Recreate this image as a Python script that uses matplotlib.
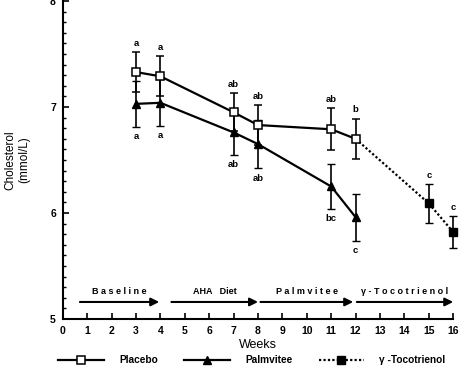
import numpy as np
import matplotlib.pyplot as plt
from matplotlib.ticker import MultipleLocator

plt.rcParams['font.family'] = ['Liberation Sans', 'DejaVu Sans']

# data
weeks_main = [3, 4, 7, 8, 11, 12]
placebo = [7.33, 7.29, 6.95, 6.83, 6.79, 6.70]
placebo_err = [0.19, 0.19, 0.18, 0.19, 0.20, 0.19]
placebo_sig = ['a', 'a', 'ab', 'ab', 'ab', 'b']

palmvitee = [7.03, 7.04, 6.76, 6.65, 6.25, 5.96]
palmvitee_err = [0.22, 0.22, 0.21, 0.23, 0.21, 0.22]
palmvitee_sig = ['a', 'a', 'ab', 'ab', 'bc', 'c']

weeks_toco = [15, 16]
toco = [6.09, 5.82]
toco_err = [0.18, 0.15]
toco_sig = ['c', 'c']

phases = ['B a s e l i n e', 'AHA   Diet', 'P a l m v i t e e', 'γ - T o c o t r i e n o l']
phase_start = [0.7, 4.45, 8.1, 12.05]
phase_end = [3.95, 8.0, 11.9, 16.0]

fig = plt.figure(figsize=(4.62, 3.67), dpi=100)
ax = fig.add_axes([0.136, 0.131, 0.845, 0.866])

lw = 1.6
ax.errorbar(weeks_main, palmvitee, yerr=palmvitee_err, color='black', lw=lw,
            marker='^', ms=6, mfc='black', capsize=3, elinewidth=1.2,
            label='Palmvitee', zorder=3)
ax.errorbar(weeks_main, placebo, yerr=placebo_err, color='black', lw=lw,
            marker='s', ms=6, mfc='white', mew=1.1, capsize=3, elinewidth=1.2,
            label='Placebo', zorder=4)
# dotted continuation from last placebo point
ax.plot([weeks_main[-1]] + weeks_toco, [placebo[-1]] + toco, color='black',
        lw=lw, ls=(0, (1, 1)), zorder=2, clip_on=False)
eb = ax.errorbar(weeks_toco, toco, yerr=toco_err, color='black', lw=0,
                 marker='s', ms=6, mfc='black', capsize=3, elinewidth=1.2, zorder=4)
for art in eb.get_children():
    art.set_clip_on(False)

fs = 6.8
for x, y, e, s in zip(weeks_main, placebo, placebo_err, placebo_sig):
    ax.text(x, y + e + 0.04, s, ha='center', va='bottom', fontsize=fs, fontweight='bold')
for x, y, e, s in zip(weeks_main, palmvitee, palmvitee_err, palmvitee_sig):
    ax.text(x, y - e - 0.05, s, ha='center', va='top', fontsize=fs, fontweight='bold')
for x, y, e, s in zip(weeks_toco, toco, toco_err, toco_sig):
    ax.text(x, y + e + 0.04, s, ha='center', va='bottom', fontsize=fs, fontweight='bold')

# study phase arrows
for name, x0, x1 in zip(phases, phase_start, phase_end):
    ax.annotate('', xy=(x1, 5.16), xytext=(x0, 5.16),
                arrowprops=dict(arrowstyle='-|>', color='black', lw=1.5,
                                mutation_scale=12, shrinkA=0, shrinkB=0))
    ax.text((x0 + x1) / 2, 5.22, name, ha='center', va='bottom', fontsize=6.5,
            fontweight='bold')

ax.set_xlim(0, 16)
ax.set_ylim(5, 8)
ax.xaxis.set_major_locator(MultipleLocator(1))
ax.yaxis.set_major_locator(MultipleLocator(1))
ax.yaxis.set_minor_locator(MultipleLocator(0.1))
ax.tick_params(direction='in', labelsize=7.5, width=1.2, length=4, pad=5)
ax.tick_params(which='minor', direction='in', length=2.5, width=1)
for lab in ax.get_xticklabels() + ax.get_yticklabels():
    lab.set_fontweight('bold')
for side in ['top', 'right']:
    ax.spines[side].set_visible(False)
for side in ['left', 'bottom']:
    ax.spines[side].set_linewidth(1.5)

ax.set_xlabel('Weeks', fontsize=9, labelpad=2)
ax.set_ylabel('Cholesterol\n(mmol/L)', fontsize=8.5, labelpad=14)

h_pl, = ax.plot([], [], color='black', lw=lw, marker='s', ms=6, mfc='white', mew=1.1)
h_pa, = ax.plot([], [], color='black', lw=lw, marker='^', ms=6, mfc='black')
h_to, = ax.plot([], [], color='black', lw=lw, ls=(0, (1, 1)), marker='s', ms=6, mfc='black')
leg = fig.legend([h_pl, h_pa, h_to], ['Placebo', 'Palmvitee', 'γ -Tocotrienol'],
                 loc='lower center', bbox_to_anchor=(0.545, -0.02), ncol=3,
                 frameon=False, handlelength=4.5, columnspacing=2.6,
                 handletextpad=1.5, prop={'weight': 'bold', 'size': 7.3})

fig.savefig('out.png', dpi=100)
